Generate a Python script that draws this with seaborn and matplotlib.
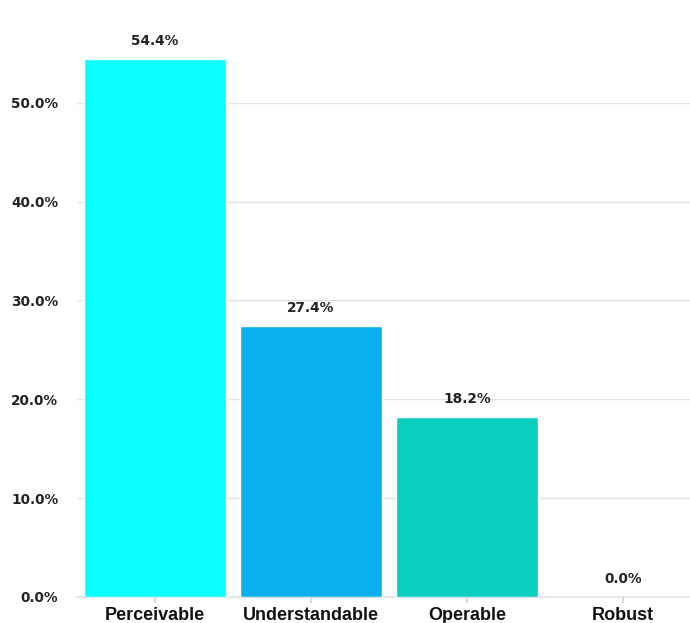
import matplotlib
matplotlib.use("Agg")
import matplotlib.pyplot as plt
import seaborn as sns
import pandas as pd

categories = ["Perceivable", "Understandable", "Operable", "Robust"]
values = [54.4, 27.4, 18.2, 0.0]
colors = ["#0AFFFF", "#0AB0EE", "#0ACFBF", "#0ACFBF"]
yticks = [0, 10, 20, 30, 40, 50]
ytick_labels = ["0.0%", "10.0%", "20.0%", "30.0%", "40.0%", "50.0%"]

sns.set_theme(style="white")
plt.rcParams['font.family'] = ['DejaVu Sans']

df = pd.DataFrame({"cat": categories, "val": values})

fig = plt.figure(figsize=(6.9, 6.23), dpi=100)
ax = fig.add_axes([77/690, 26/623, 1 - 77/690, 597/623])

sns.barplot(data=df, x="cat", y="val", hue="cat", palette=colors, legend=False,
            width=0.91, saturation=1, ax=ax, zorder=3)

ax.set_ylim(0, 60.4)
ax.set_xlim(-0.5, 3.43)
ax.set_yticks(yticks)
ax.set_yticklabels(ytick_labels, fontsize=9.8, fontweight="bold", color="#222222")
ax.yaxis.grid(True, color="#e2e2e2", linewidth=1, zorder=0)
ax.set_axisbelow(True)
for s in ["top", "right", "left"]:
    ax.spines[s].set_visible(False)
ax.spines["bottom"].set_color("#e2e2e2")
ax.tick_params(axis="y", length=0, pad=13.5)
ax.tick_params(axis="x", length=4, color="#d0d0d0", pad=3, bottom=True)
for lbl in ax.get_xticklabels():
    lbl.set_fontfamily("Liberation Sans")
    lbl.set_fontweight("bold")
    lbl.set_fontsize(13)
    lbl.set_color("#111111")
ax.set_xlabel("")
ax.set_ylabel("")

for i, v in enumerate(values):
    ax.annotate(f"{v:.1f}%", (i, v), xytext=(0, 8), textcoords="offset points",
                ha="center", va="bottom", fontsize=9.8, fontweight="bold", color="#222222")

fig.savefig("out.png", dpi=100)
